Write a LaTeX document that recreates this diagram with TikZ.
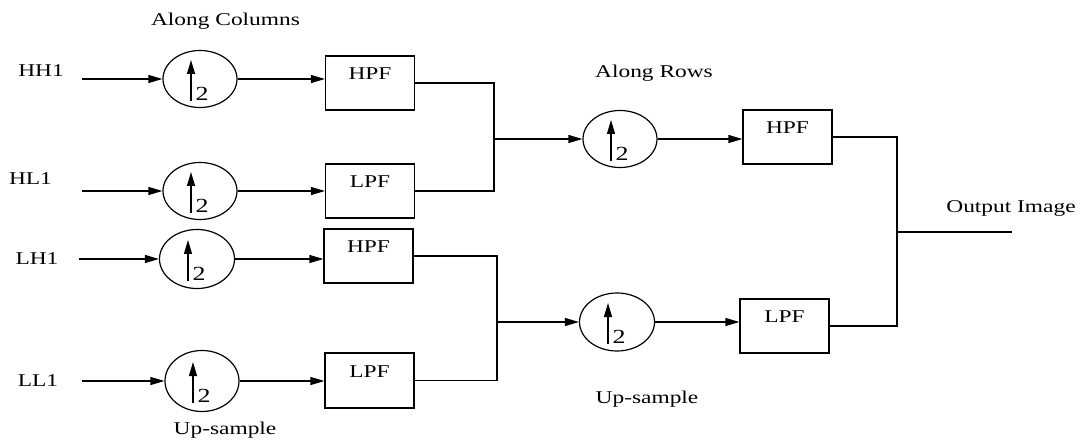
\documentclass[tikz,border=0pt]{standalone}
\usepackage{fontspec}
\setmainfont{Liberation Serif}[FakeStretch=1.3]
\usetikzlibrary{shapes.geometric,arrows.meta,calc}
\begin{document}
\begin{tikzpicture}[x=1pt,y=-1pt,line width=1.2pt,
  font=\fontsize{18}{20}\selectfont,
  arr/.style={-{Triangle[length=14pt,width=8pt]}},
  upsamp/.style={ellipse,draw,inner sep=0pt,minimum width=74pt,minimum height=57pt},
  filt/.style={rectangle,draw,inner xsep=0pt,inner ysep=6pt,minimum width=89pt,text height=18pt,text depth=24pt},
  lbl/.style={anchor=base,inner sep=0pt}]
\useasboundingbox (0,0) rectangle (1091,443);

% up-samplers
\node[upsamp] (e1) at (200,79) {};
\node[upsamp] (e2) at (200,191) {};
\node[upsamp,minimum width=75pt,minimum height=59pt] (e3) at (197,259) {};
\node[upsamp,minimum height=61pt] (e4) at (202,381) {};
\node[upsamp] (e5) at (620,139) {};
\node[upsamp,minimum width=75pt,minimum height=58pt] (e6) at (617,322) {};

% filters
\node[filt] (b1) at (370,83) {HPF};
\node[filt] (b2) at (370,191) {LPF};
\node[filt] (b3) at (368.5,256) {HPF};
\node[filt,inner ysep=6.5pt] (b4) at (369.5,380.5) {LPF};
\node[filt] (b5) at (787.5,137) {HPF};
\node[filt] (b6) at (784.5,326) {LPF};

% up arrows and factor 2 inside ellipses
\foreach \e in {e1,e2,e3,e4,e5,e6}{
  \draw[arr] ($(\e)+(-9,22)$) -- ($(\e)+(-9,-19)$);
  \node[inner sep=0pt,font=\fontsize{20}{22}\selectfont] at ($(\e)+(2,15)$) {2};
}

% inputs
\coordinate (in1) at (82,79);
\coordinate (in2) at (82,191);
\coordinate (in3) at (79,259);
\coordinate (in4) at (82,381);
\node[lbl] (t1) at (41,77) {HH1};
\node[lbl] (t2) at (30.5,185) {HL1};
\node[lbl] (t3) at (37,265) {LH1};
\node[lbl] (t4) at (38,386) {LL1};

\draw[arr] (in1) -- (e1.west);
\draw[arr] (in2) -- (e2.west);
\draw[arr] (in3) -- (e3.west);
\draw[arr] (in4) -- (e4.west);

\draw[arr] (e1.east) -- (e1.east -| b1.west);
\draw[arr] (e2.east) -- (e2.east -| b2.west);
\draw[arr] (e3.east) -- (e3.east -| b3.west);
\draw[arr] (e4.east) -- (e4.east -| b4.west);

% junctions
\coordinate (m1) at (494,139);
\coordinate (m2) at (497,322);
\coordinate (m3) at (897,232);
\coordinate (out) at (1012,232);

\draw (b1.east) -| (m1) |- (b2.east);
\draw (b3.east) -| (m2) |- (b4.east);
\draw[arr] (m1) -- (e5.west);
\draw[arr] (m2) -- (e6.west);
\draw[arr] (e5.east) -- (e5.east -| b5.west);
\draw[arr] (e6.east) -- (e6.east -| b6.west);
\draw (b5.east) -| (m3) |- (b6.east);
\draw (m3) -- (out);

% labels
\node[lbl] (c1) at (225.5,26) {Along Columns};
\node[lbl] (c2) at (225,434) {Up-sample};
\node[lbl] (c3) at (654,78) {Along Rows};
\node[lbl] (c4) at (647,403) {Up-sample};
\node[lbl] (c5) at (1011,213) {Output Image};
\end{tikzpicture}
\end{document}
